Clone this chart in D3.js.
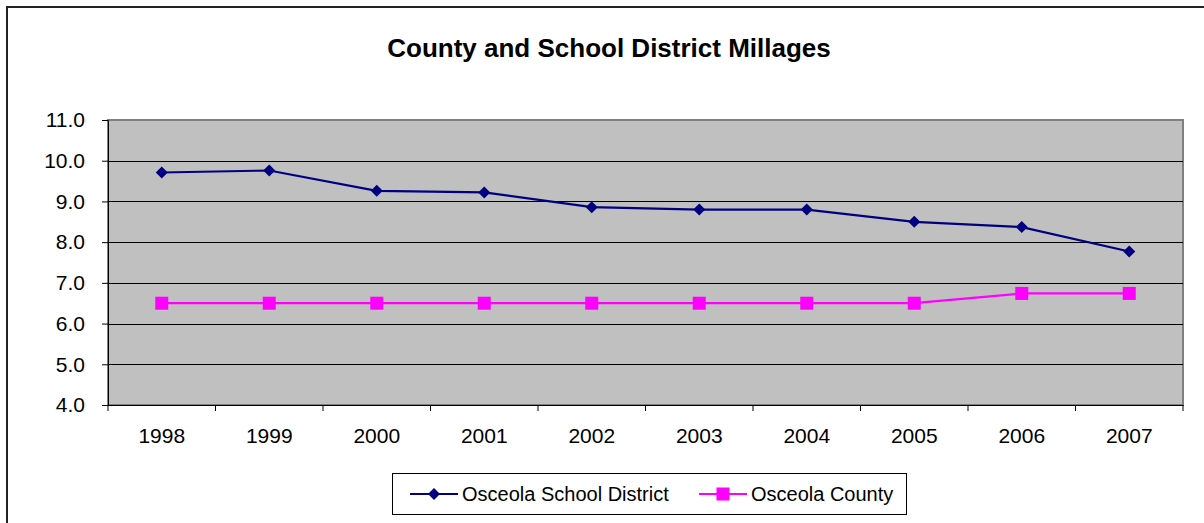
<!DOCTYPE html>
<html>
<head>
<meta charset="utf-8">
<script src="https://cdn.jsdelivr.net/npm/d3@7"></script>
<style>
  html, body { margin: 0; padding: 0; background: #fff; }
  svg { display: block; font-family: "Liberation Sans", Arial, sans-serif; }
</style>
</head>
<body>
<svg id="chart" width="1204" height="523"></svg>
<script>
// Millage rates by year
const years = ["1998", "1999", "2000", "2001", "2002", "2003", "2004", "2005", "2006", "2007"];
const schoolDistrict = [9.71, 9.76, 9.26, 9.22, 8.86, 8.80, 8.80, 8.50, 8.37, 7.77];
const county = [6.50, 6.50, 6.50, 6.50, 6.50, 6.50, 6.50, 6.50, 6.74, 6.74];
const yTicks = [4, 5, 6, 7, 8, 9, 10, 11];
const seriesNames = ["Osceola School District", "Osceola County"];

const svg = d3.select("#chart");
const W = 1204, H = 523;
const plot = { left: 108, right: 1183, top: 120, bottom: 405 };
const FONT = "Liberation Sans, Arial, sans-serif";

// outer chart frame
svg.append("rect")
  .attr("x", 7).attr("y", 7).attr("width", W + 10).attr("height", H + 10)
  .attr("fill", "#fff").attr("stroke", "#222").attr("stroke-width", 2);

svg.append("text")
  .attr("x", 609).attr("y", 57)
  .attr("text-anchor", "middle")
  .attr("font-size", 26).attr("font-weight", "bold")
  .text("County and School District Millages");

const x = d3.scaleBand().domain(years).range([plot.left, plot.right]);
const y = d3.scaleLinear().domain([4, 11]).range([plot.bottom, plot.top]);

// plot background
svg.append("rect")
  .attr("x", plot.left).attr("y", plot.top)
  .attr("width", plot.right - plot.left).attr("height", plot.bottom - plot.top)
  .attr("fill", "#c0c0c0").attr("stroke", "#808080").attr("stroke-width", 2);

// horizontal gridlines
svg.append("g").selectAll("line")
  .data(yTicks.filter(t => t > 4 && t < 11))
  .join("line")
  .attr("x1", plot.left).attr("x2", plot.right)
  .attr("y1", d => Math.round(y(d)) + 0.5).attr("y2", d => Math.round(y(d)) + 0.5)
  .attr("stroke", "#000").attr("stroke-width", 1);

// y axis
const yAxis = svg.append("g")
  .attr("transform", `translate(${plot.left},0)`)
  .call(d3.axisLeft(y).tickValues(yTicks).tickFormat(d3.format(".1f")).tickSize(6).tickPadding(17));
yAxis.selectAll("text").attr("font-size", 21).attr("fill", "#000").attr("font-family", FONT);
yAxis.selectAll("line,path").attr("stroke", "#000");

// x axis with ticks at category boundaries
const xAxis = svg.append("g")
  .attr("transform", `translate(0,${plot.bottom})`)
  .call(d3.axisBottom(x).tickSize(0).tickPadding(23));
xAxis.selectAll("text").attr("font-size", 21).attr("fill", "#000").attr("font-family", FONT);
xAxis.select("path").attr("stroke", "#000");
xAxis.selectAll(".bound")
  .data(years.concat(["end"]))
  .join("line")
  .attr("class", "bound")
  .attr("x1", (d, i) => plot.left + i * x.step()).attr("x2", (d, i) => plot.left + i * x.step())
  .attr("y1", 0).attr("y2", 6)
  .attr("stroke", "#000");

const cx = d => x(d) + x.bandwidth() / 2;
const line = d3.line().x((d, i) => cx(years[i])).y(d => y(d));

// School District series
svg.append("path").datum(schoolDistrict)
  .attr("d", line).attr("fill", "none")
  .attr("stroke", "#000080").attr("stroke-width", 2.2);
svg.append("g").selectAll("path")
  .data(schoolDistrict).join("path")
  .attr("transform", (d, i) => `translate(${cx(years[i])},${y(d)}) rotate(45)`)
  .attr("d", d3.symbol().type(d3.symbolSquare).size(72))
  .attr("fill", "#000080");

// County series
svg.append("path").datum(county)
  .attr("d", line).attr("fill", "none")
  .attr("stroke", "#ff00ff").attr("stroke-width", 2.2);
svg.append("g").selectAll("rect")
  .data(county).join("rect")
  .attr("x", (d, i) => cx(years[i]) - 6.5).attr("y", d => y(d) - 6.5)
  .attr("width", 13).attr("height", 13)
  .attr("fill", "#ff00ff");

// legend
const lg = svg.append("g");
lg.append("rect")
  .attr("x", 392.5).attr("y", 473.5).attr("width", 514).attr("height", 41)
  .attr("fill", "#fff").attr("stroke", "#000").attr("stroke-width", 1);
const items = [
  { name: seriesNames[0], color: "#000080", x0: 410, tx: 462, shape: "diamond" },
  { name: seriesNames[1], color: "#ff00ff", x0: 699, tx: 751, shape: "square" }
];
items.forEach(it => {
  lg.append("line").attr("x1", it.x0).attr("x2", it.x0 + 48)
    .attr("y1", 494).attr("y2", 494)
    .attr("stroke", it.color).attr("stroke-width", 2.2);
  if (it.shape === "diamond") {
    lg.append("path")
      .attr("transform", `translate(${it.x0 + 24},494) rotate(45)`)
      .attr("d", d3.symbol().type(d3.symbolSquare).size(72))
      .attr("fill", it.color);
  } else {
    lg.append("rect").attr("x", it.x0 + 24 - 6.5).attr("y", 494 - 6.5)
      .attr("width", 13).attr("height", 13).attr("fill", it.color);
  }
  lg.append("text").attr("x", it.tx).attr("y", 501)
    .attr("font-size", 20).attr("font-family", FONT).text(it.name);
});
</script>
</body>
</html>
